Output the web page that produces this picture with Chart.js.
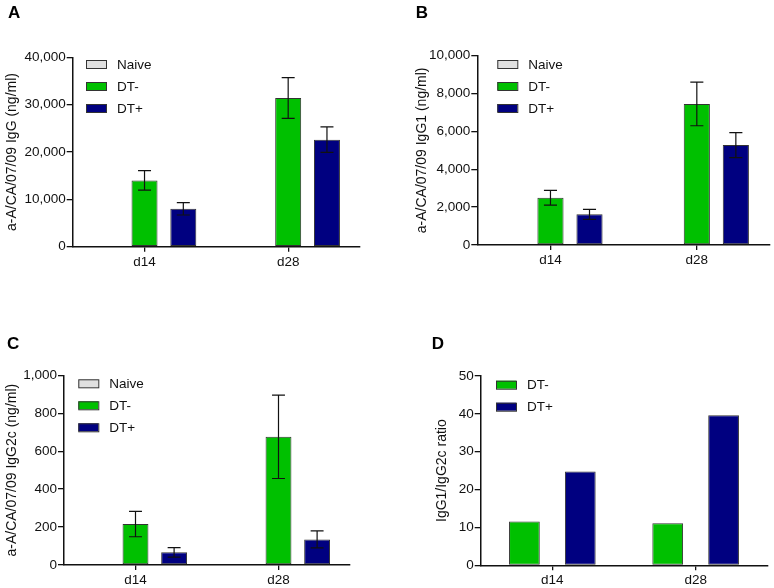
<!DOCTYPE html>
<html>
<head>
<meta charset="utf-8">
<script src="https://cdn.jsdelivr.net/npm/chart.js@4/dist/chart.umd.min.js"></script>
<style>
  body { margin: 0; background: #fff; }
  #wrap { position: relative; width: 774px; height: 588px; }
  canvas { position: absolute; }
</style>
</head>
<body>
<div id="wrap">
  <canvas id="panelA" width="387" height="294" style="left:0;top:0"></canvas>
  <canvas id="panelB" width="387" height="294" style="left:387px;top:0"></canvas>
  <canvas id="panelC" width="387" height="294" style="left:0;top:294px"></canvas>
  <canvas id="panelD" width="387" height="294" style="left:387px;top:294px"></canvas>
</div>
<script>
// data
const days = ['d14', 'd28'];

const iggNaive = [null, 0];
const iggDTneg = [14000, 31400];
const iggDTnegErr = [2050, 4300];
const iggDTpos = [8000, 22600];
const iggDTposErr = [1300, 2700];

const igg1Naive = [null, null];
const igg1DTneg = [2500, 7450];
const igg1DTnegErr = [390, 1150];
const igg1DTpos = [1620, 5280];
const igg1DTposErr = [265, 660];

const igg2cNaive = [null, null];
const igg2cDTneg = [216, 676];
const igg2cDTnegErr = [67, 220];
const igg2cDTpos = [67, 135];
const igg2cDTposErr = [25, 45];

const ratioDTneg = [11.6, 11.1];
const ratioDTpos = [24.8, 39.6];

const NAIVE_COL = '#e0e0e0';
const GREEN = '#00c000';
const NAVY = '#000080';
const FONT = "'Liberation Sans', Arial, sans-serif";

Chart.defaults.font.family = FONT;
Chart.defaults.color = '#111';
Chart.defaults.animation = false;

const errorBars = {
    id: 'errorBars',
    afterDatasetsDraw(chart){
        const ctx = chart.ctx;
        const y = chart.scales.y;
        chart.data.datasets.forEach((ds, di) => {
            if(!ds.errors) return;
            const meta = chart.getDatasetMeta(di);
            meta.data.forEach((bar, i) => {
                const v = ds.data[i];
                const e = ds.errors[i];
                if(v == null || !e) return;
                const top = y.getPixelForValue(v + e);
                const bot = y.getPixelForValue(v - e);
                const half = bar.width / 4;
                ctx.save();
                ctx.strokeStyle = '#111';
                ctx.lineWidth = 1.2;
                ctx.beginPath();
                ctx.moveTo(bar.x, top); ctx.lineTo(bar.x, bot);
                ctx.moveTo(bar.x - half, top); ctx.lineTo(bar.x + half, top);
                ctx.moveTo(bar.x - half, bot); ctx.lineTo(bar.x + half, bot);
                ctx.stroke();
                ctx.restore();
            });
        });
    }
};

const panelDecor = {
    id: 'panelDecor',
    afterDraw(chart){
        const o = chart.options.plugins.panelDecor;
        const ctx = chart.ctx;
        ctx.save();
        ctx.fillStyle = '#000';
        ctx.font = 'bold 17px ' + FONT;
        ctx.textBaseline = 'alphabetic';
        ctx.fillText(o.letter, o.letterX, o.letterY);

        ctx.font = '13.5px ' + FONT;
        ctx.textBaseline = 'middle';
        chart.data.datasets.forEach((ds, i) => {
            const yy = o.legendY + i * 22;
            ctx.fillStyle = ds.backgroundColor;
            ctx.fillRect(o.legendX, yy - 4, 20, 8);
            ctx.strokeStyle = '#333';
            ctx.lineWidth = 1;
            ctx.strokeRect(o.legendX + 0.5, yy - 3.5, 20, 8);
            ctx.fillStyle = '#111';
            ctx.fillText(ds.label, o.legendX + 31, yy + 1);
        });
        ctx.restore();
    }
};

function makeDataset(label, color, values, errors){
    return {
        label: label,
        data: values,
        errors: errors,
        backgroundColor: color,
        borderColor: '#333',
        borderWidth: 1,
        borderSkipped: false
    };
}

function buildPanel(id, cfg){
    const area = cfg.area; // left, top, right, bottom of the plot in canvas coords
    new Chart(document.getElementById(id).getContext('2d'), {
        type: 'bar',
        data: { labels: days, datasets: cfg.datasets },
        plugins: [errorBars, panelDecor],
        options: {
            responsive: false,
            datasets: { bar: { barPercentage: cfg.barPct, categoryPercentage: cfg.catPct } },
            layout: { padding: { left: 0, top: area.top, right: 387 - area.right, bottom: 294 - area.bottom - 20 } },
            plugins: {
                legend: { display: false },
                tooltip: { enabled: false },
                panelDecor: cfg.decor
            },
            scales: {
                x: {
                    grid: { display: true, drawOnChartArea: false, offset: false, color: '#111', tickLength: 5, lineWidth: 1.3 },
                    border: { display: true, color: '#111', width: 1.5 },
                    ticks: { font: { size: 13.5 }, padding: 2, color: '#111' },
                    afterFit(scale){ scale.height = 20; }
                },
                y: {
                    min: 0,
                    max: cfg.yMax,
                    grid: { display: true, drawOnChartArea: false, color: '#111', tickLength: 6, lineWidth: 1.3 },
                    border: { display: true, color: '#111', width: 1.5 },
                    ticks: {
                        stepSize: cfg.yStep,
                        font: { size: 13.5 },
                        padding: 1,
                        color: '#111',
                        callback: (v) => v.toLocaleString('en-US')
                    },
                    title: {
                        display: true,
                        text: cfg.yTitle,
                        font: { size: 14 },
                        color: '#111',
                        padding: { top: cfg.titleX - 8.4, bottom: 0 }
                    },
                    afterFit(scale){ scale.width = area.left; }
                }
            }
        }
    });
}

buildPanel('panelA', {
    area: { left: 72.7, top: 57.3, right: 360, bottom: 246.7 },
    datasets: [
        makeDataset('Naive', NAIVE_COL, iggNaive, null),
        makeDataset('DT-', GREEN, iggDTneg, iggDTnegErr),
        makeDataset('DT+', NAVY, iggDTpos, iggDTposErr)
    ],
    barPct: 0.67, catPct: 0.81,
    yMax: 40000, yStep: 10000,
    yTitle: 'a-A/CA/07/09 IgG (ng/ml)', titleX: 12,
    decor: { letter: 'A', letterX: 8, letterY: 18, legendX: 86, legendY: 64 }
});

buildPanel('panelB', {
    area: { left: 90.3, top: 55.7, right: 383, bottom: 245 },
    datasets: [
        makeDataset('Naive', NAIVE_COL, igg1Naive, null),
        makeDataset('DT-', GREEN, igg1DTneg, igg1DTnegErr),
        makeDataset('DT+', NAVY, igg1DTpos, igg1DTposErr)
    ],
    barPct: 0.67, catPct: 0.8,
    yMax: 10000, yStep: 2000,
    yTitle: 'a-A/CA/07/09 IgG1 (ng/ml)', titleX: 35.5,
    decor: { letter: 'B', letterX: 28.7, letterY: 17.5, legendX: 110.3, legendY: 64 }
});

buildPanel('panelC', {
    area: { left: 64, top: 81.3, right: 350, bottom: 271 },
    datasets: [
        makeDataset('Naive', NAIVE_COL, igg2cNaive, null),
        makeDataset('DT-', GREEN, igg2cDTneg, igg2cDTnegErr),
        makeDataset('DT+', NAVY, igg2cDTpos, igg2cDTposErr)
    ],
    barPct: 0.67, catPct: 0.81,
    yMax: 1000, yStep: 200,
    yTitle: 'a-A/CA/07/09 IgG2c (ng/ml)', titleX: 12,
    decor: { letter: 'C', letterX: 7, letterY: 54.5, legendX: 78.3, legendY: 89.3 }
});

buildPanel('panelD', {
    area: { left: 93.7, top: 82, right: 380.3, bottom: 271.3 },
    datasets: [
        makeDataset('DT-', GREEN, ratioDTneg, null),
        makeDataset('DT+', NAVY, ratioDTpos, null)
    ],
    barPct: 0.55, catPct: 0.78,
    yMax: 50, yStep: 10,
    yTitle: 'IgG1/IgG2c ratio', titleX: 55,
    decor: { letter: 'D', letterX: 44.7, letterY: 54.5, legendX: 109, legendY: 90.7 }
});
</script>
</body>
</html>
